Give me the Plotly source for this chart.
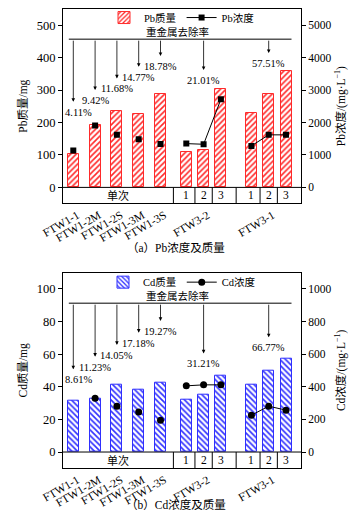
import plotly.graph_objects as go

# ---------------- data ----------------
tick_labels = ["FTW1-1", "FTW1-2M", "FTW1-2S", "FTW1-3M", "FTW1-3S", "FTW3-2", "FTW3-1"]
group_names = ["单次", "FTW3-2", "FTW3-1"]
group_sizes = [5, 3, 3]
cell_numbers = ["1", "2", "3"]

pb_mass = [103, 191, 236, 225, 288, 110, 116, 302, 230, 287, 358]
pb_conc = [1140, 1905, 1620, 1485, 1335, 1350, 1330, 2715, 1280, 1620, 1620]
cd_mass = [31.5, 33, 41.2, 38, 42.6, 32.4, 35.3, 46.6, 41, 49.7, 57]
cd_conc = [None, 330, 281, 246, 195, 406, 412, 412, 226, 281, 257]

pb_rates = ["4.11%", "9.42%", "11.68%", "14.77%", "18.78%", "21.01%", "57.51%"]
pb_tips = [264, 300, 336, 372, 405, 362, 414]
cd_rates = ["8.61%", "11.23%", "14.05%", "17.18%", "19.27%", "31.21%", "66.77%"]
cd_tips = [50.7, 58.5, 65.7, 73.2, 80.4, 60.5, 70.4]

# ---------------- style / layout ----------------
RED = "#ff2a2a"
BLUE = "#2f2fff"
FONT = "Liberation Serif, Noto Sans CJK SC, serif"
X_RANGE = [0, 238]
FIRST, STEP1, STEP2, GAPS = 10.3, 21.8, 17.3, [25.8, 30.5]
BAR_W = 11

xs = []
for gi, n in enumerate(group_sizes):
    step = STEP1 if gi == 0 else STEP2
    for i in range(n):
        if not xs:
            xs.append(FIRST)
        elif i == 0:
            xs.append(xs[-1] + GAPS[gi - 1])
        else:
            xs.append(xs[-1] + step)

starts = [sum(group_sizes[:g]) for g in range(len(group_sizes))]
tick_x = xs[:group_sizes[0]] + [xs[s + group_sizes[g] // 2] for g, s in enumerate(starts) if g > 0]
rate_x = tick_x
edges = [X_RANGE[0]] + [(xs[s - 1] + xs[s]) / 2 for s in starts[1:]] + [X_RANGE[1]]

fig = go.Figure()

panels = [
    dict(xa="x", ya="y", ya2="y2", mass=pb_mass, conc=pb_conc, color=RED, shape="/",
         mname="Pb质量", cname="Pb浓度", sym="square", msize=6, legend="legend",
         rates=pb_rates, tips=pb_tips, line_y=457, ymin=-49),
    dict(xa="x2", ya="y3", ya2="y4", mass=cd_mass, conc=cd_conc, color=BLUE, shape="\\",
         mname="Cd质量", cname="Cd浓度", sym="circle", msize=7, legend="legend2",
         rates=cd_rates, tips=cd_tips, line_y=91.3, ymin=-9.8),
]

shapes = []
annotations = []
for p in panels:
    fig.add_trace(go.Bar(
        x=xs, y=p["mass"], width=BAR_W, name=p["mname"], xaxis=p["xa"], yaxis=p["ya"],
        legend=p["legend"],
        marker=dict(color="white", line=dict(color=p["color"], width=1),
                    pattern=dict(shape=p["shape"], fgcolor=p["color"], bgcolor="white",
                                 size=4, solidity=0.4)),
    ))
    n0 = group_sizes[0]
    fig.add_trace(go.Scatter(
        x=xs[:n0], y=p["conc"][:n0], mode="markers", xaxis=p["xa"], yaxis=p["ya2"],
        marker=dict(symbol=p["sym"], size=p["msize"], color="black"), showlegend=False,
        legend=p["legend"],
    ))
    for g, s in enumerate(starts[1:], start=1):
        e = s + group_sizes[g]
        fig.add_trace(go.Scatter(
            x=xs[s:e], y=p["conc"][s:e], mode="lines+markers", xaxis=p["xa"], yaxis=p["ya2"],
            line=dict(color="black", width=1),
            marker=dict(symbol=p["sym"], size=p["msize"], color="black"),
            name=p["cname"], showlegend=(g == 1), legend=p["legend"],
        ))

    xref, yref = p["xa"], p["ya"]
    # table below the zero line
    shapes.append(dict(type="line", xref=xref, yref=yref, x0=X_RANGE[0], x1=X_RANGE[1],
                       y0=0, y1=0, line=dict(color="black", width=1)))
    divs = list(edges[1:-1])
    for g, s in enumerate(starts[1:], start=1):
        for i in range(1, group_sizes[g]):
            divs.append((xs[s + i - 1] + xs[s + i]) / 2)
    for d in divs:
        shapes.append(dict(type="line", xref=xref, yref=yref, x0=d, x1=d, y0=p["ymin"], y1=0,
                           line=dict(color="black", width=1)))
    annotations.append(dict(xref=xref, yref=yref, x=(edges[0] + edges[1]) / 2, y=p["ymin"] / 2,
                            text=group_names[0], showarrow=False,
                            font=dict(family=FONT, size=11, color="black")))
    for g, s in enumerate(starts[1:], start=1):
        for i in range(group_sizes[g]):
            annotations.append(dict(xref=xref, yref=yref, x=xs[s + i], y=p["ymin"] / 2,
                                    text=cell_numbers[i], showarrow=False,
                                    font=dict(family=FONT, size=11.5, color="black")))
    # removal-rate bracket
    lx0, lx1 = xs[0] - 4.5, xs[-1] + 5.5
    shapes.append(dict(type="line", xref=xref, yref=yref, x0=lx0, x1=lx1,
                       y0=p["line_y"], y1=p["line_y"], line=dict(color="black", width=1)))
    annotations.append(dict(xref=xref, yref=yref, x=(lx0 + lx1) / 2 - 3, y=p["line_y"],
                            yanchor="bottom", yshift=-1, text="重金属去除率", showarrow=False,
                            font=dict(family=FONT, size=10.5, color="black")))
    for k, (rx, tip, lab) in enumerate(zip(rate_x, p["tips"], p["rates"])):
        annotations.append(dict(xref=xref, yref=yref, x=rx, y=tip, axref=xref, ayref=yref,
                                ax=rx, ay=p["line_y"], text="", showarrow=True,
                                arrowhead=2, arrowsize=0.9, arrowwidth=0.8,
                                arrowcolor="black", standoff=0, startstandoff=0))
        annotations.append(dict(xref=xref, yref=yref, x=rx, y=tip, yanchor="top", yshift=-3,
                                xshift=5 if k == 0 else 0, text=lab, showarrow=False,
                                font=dict(family=FONT, size=10.5, color="black")))

TOP_DOM = [0.5767, 1.0]
BOT_DOM = [0.0, 0.4255]

# captions
annotations.append(dict(xref="paper", yref="paper", x=0.475, y=TOP_DOM[0], yshift=-44,
                        text="（a）Pb浓度及质量", showarrow=False,
                        font=dict(family=FONT, size=11.5, color="black")))
annotations.append(dict(xref="paper", yref="paper", x=0.475, y=BOT_DOM[0], yshift=-45,
                        text="（b）Cd浓度及质量", showarrow=False,
                        font=dict(family=FONT, size=11.5, color="black")))

ltick = dict(family=FONT, size=12.5, color="black")
rtick = dict(family=FONT, size=11.5, color="black")
titlefont = dict(family=FONT, size=11.5, color="black")

def xaxis(anchor):
    return dict(domain=[0, 1], anchor=anchor, range=X_RANGE, showline=True, mirror=True,
                linecolor="black", linewidth=1, showgrid=False, zeroline=False, ticks="",
                tickvals=tick_x, ticktext=tick_labels, tickangle=-30,
                tickfont=dict(family=FONT, size=11.5, color="black"),
                ticklabelshift=4, ticklabelstandoff=0, automargin=False)

def yleft(dom, rng, vals, title, anchor):
    return dict(domain=dom, anchor=anchor, range=rng, tickvals=vals, ticks="outside", ticklen=4,
                tickcolor="black", showline=True, linecolor="black", linewidth=1, showgrid=False,
                zeroline=False, tickfont=ltick, automargin=False,
                title=dict(text=title, font=titlefont, standoff=6))

def yright(over, rng, vals, title, anchor):
    return dict(overlaying=over, anchor=anchor, side="right", range=rng, tickvals=vals, ticks="outside",
                ticklen=4, tickcolor="black", showline=True, linecolor="black", linewidth=1,
                showgrid=False, zeroline=False, tickfont=rtick, automargin=False,
                title=dict(text=title, font=titlefont, standoff=6))

fig.update_layout(
    template="none",
    width=358, height=522, margin=dict(l=63, r=57, t=9, b=54, autoexpand=False),
    paper_bgcolor="white", plot_bgcolor="white", bargap=0,
    font=dict(family=FONT, color="black"),
    xaxis=xaxis("y"),
    xaxis2=xaxis("y3"),
    yaxis=yleft(TOP_DOM, [-49, 550], list(range(0, 501, 100)), "Pb质量/mg", "x"),
    yaxis2=yright("y", [-490, 5500], list(range(0, 5001, 1000)), "Pb浓度/(mg·L<sup>−1</sup>)", "x"),
    yaxis3=yleft(BOT_DOM, [-9.8, 110], list(range(0, 101, 20)), "Cd质量/mg", "x2"),
    yaxis4=yright("y3", [-98, 1100], list(range(0, 1001, 200)), "Cd浓度/(mg·L<sup>−1</sup>)", "x2"),
    legend=dict(orientation="h", x=0.5, xanchor="center", y=TOP_DOM[1] + 0.013, yanchor="top",
                font=dict(family=FONT, size=10.5, color="black"), bgcolor="rgba(0,0,0,0)",
                itemwidth=30, tracegroupgap=0),
    legend2=dict(orientation="h", x=0.5, xanchor="center", y=BOT_DOM[1] + 0.011, yanchor="top",
                 font=dict(family=FONT, size=10.5, color="black"), bgcolor="rgba(0,0,0,0)",
                 itemwidth=30, tracegroupgap=0),
    shapes=shapes, annotations=annotations, showlegend=True,
)

fig.write_html("out.html", config={"displayModeBar": False},
               post_script="document.body.style.margin='0';document.body.style.overflow='hidden';")
